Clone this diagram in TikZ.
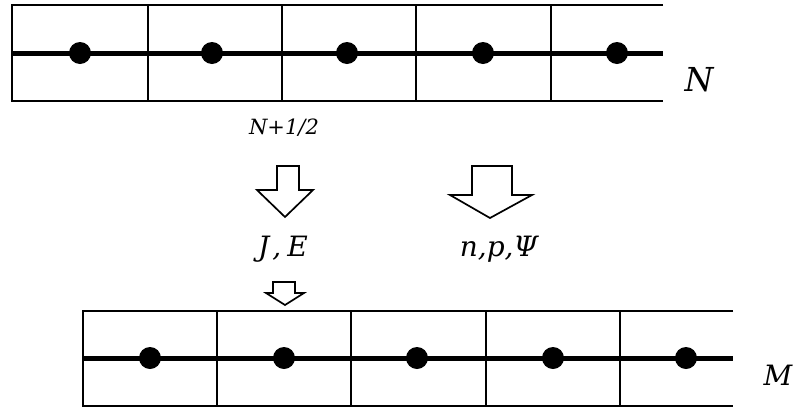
\documentclass[tikz,border=0pt]{standalone}
\usepackage{fontspec}
\setmainfont{DejaVu Serif}
\begin{document}
\begin{tikzpicture}[x=1pt,y=-1pt,
  thinline/.style={line width=2.5pt},
  thickline/.style={line width=5pt},
  celldot/.style={fill=black},
  hollowarrow/.style={draw=black,fill=white,line width=1.7pt,line join=miter},
  lbl/.style={inner sep=0pt,anchor=center,font=\itshape}]
\useasboundingbox (0,0) rectangle (796,413);
% top grid
\draw[thinline] (663,5) -- (12,5) -- (12,101) -- (663,101);
\foreach \x in {148,282,416,551} \draw[thinline] (\x,5) -- (\x,101);
\draw[thickline] (12,53) -- (663,53);
\foreach \x in {80,212,347,483,617} \fill[celldot] (\x,53) circle (11);
% bottom grid
\draw[thinline] (733,311) -- (83,311) -- (83,406) -- (733,406);
\foreach \x in {217,351,486,620} \draw[thinline] (\x,311) -- (\x,406);
\draw[thickline] (83,358) -- (733,358);
\foreach \x in {150,284,417,553,686} \fill[celldot] (\x,358) circle (11);
% arrows
\draw[hollowarrow] (277,166) -- (299,166) -- (299,190) -- (313,190) -- (285,217) -- (257,190) -- (277,190) -- cycle;
\draw[hollowarrow] (472,166) -- (512,166) -- (512,195) -- (532,195) -- (490,218) -- (450,195) -- (472,195) -- cycle;
\draw[hollowarrow] (273,282) -- (295,282) -- (295,293) -- (304,293) -- (285,305) -- (266,293) -- (273,293) -- cycle;
% labels
\node[lbl] (labN) at (699,80) {\fontsize{33}{38}\selectfont N};
\node[lbl] (labM) at (778,375) {\fontsize{28}{32}\selectfont M};
\node[lbl] (labhalf) at (284,128) {\fontsize{21}{24}\selectfont N+1/2};
\node[lbl,anchor=base] (labJE) at (283,256) {\fontsize{28}{32}\selectfont J\kern3pt,\kern6pt E};
\node[lbl,anchor=base] (labnp) at (499,256) {\fontsize{28}{32}\selectfont n,p,Ψ};
\end{tikzpicture}
\end{document}
